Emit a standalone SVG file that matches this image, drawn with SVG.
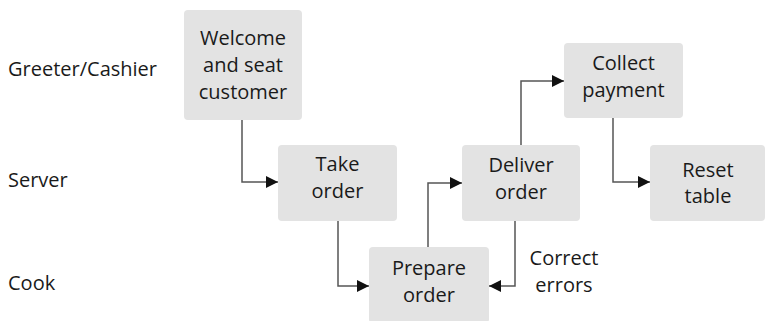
<svg xmlns="http://www.w3.org/2000/svg" width="765" height="321" viewBox="0 0 765 321">
  <defs>
    <marker id="arrow" viewBox="0 0 12 12" refX="12" refY="6" markerWidth="12" markerHeight="12" markerUnits="userSpaceOnUse" orient="auto">
      <path d="M0,0 L12,6 L0,12 Z" fill="#111"/>
    </marker>
    <style>
      .lane { font-family: "Open Sans", "Noto Sans", sans-serif; font-size: 20px; fill: #1a1a1a; }
      .box rect { fill: #e3e3e3; }
      .box text { font-family: "Open Sans", "Noto Sans", sans-serif; font-size: 20px; fill: #1a1a1a; text-anchor: middle; }
      .conn path { fill: none; stroke: #555; stroke-width: 1.5; marker-end: url(#arrow); }
      .note { font-family: "Open Sans", "Noto Sans", sans-serif; font-size: 20px; fill: #1a1a1a; text-anchor: middle; }
    </style>
  </defs>
  <rect width="765" height="321" fill="#fff"/>

  <!-- swimlane labels -->
  <text class="lane" x="8" y="76">Greeter/Cashier</text>
  <text class="lane" x="8" y="187">Server</text>
  <text class="lane" x="8" y="290">Cook</text>

  <!-- connectors -->
  <g class="conn">
    <path d="M242,120 V182 H278"/>
    <path d="M338,221 V286 H369"/>
    <path d="M428,247 V183 H462"/>
    <path d="M515,221 V286 H489"/>
    <path d="M521,145 V81 H564"/>
    <path d="M613,118 V182 H650"/>
  </g>

  <!-- nodes -->
  <g id="welcome" class="box">
    <rect x="184" y="10" width="118" height="110" rx="4"/>
    <text x="243" y="45">Welcome</text>
    <text x="243" y="72">and seat</text>
    <text x="243" y="99">customer</text>
  </g>
  <g id="take-order" class="box">
    <rect x="278" y="145" width="119" height="76" rx="4"/>
    <text x="337.5" y="171">Take</text>
    <text x="337.5" y="198">order</text>
  </g>
  <g id="prepare-order" class="box">
    <rect x="369" y="247" width="120" height="76" rx="4"/>
    <text x="429" y="275">Prepare</text>
    <text x="429" y="302">order</text>
  </g>
  <g id="deliver-order" class="box">
    <rect x="462" y="145" width="118" height="76" rx="4"/>
    <text x="521" y="172">Deliver</text>
    <text x="521" y="199">order</text>
  </g>
  <g id="collect-payment" class="box">
    <rect x="564" y="43" width="119" height="75" rx="4"/>
    <text x="623.5" y="70">Collect</text>
    <text x="623.5" y="97">payment</text>
  </g>
  <g id="reset-table" class="box">
    <rect x="650" y="145" width="115" height="76" rx="4"/>
    <text x="708" y="177">Reset</text>
    <text x="708" y="203">table</text>
  </g>

  <!-- edge label -->
  <text class="note" x="564" y="265">Correct</text>
  <text class="note" x="564" y="292">errors</text>
</svg>
